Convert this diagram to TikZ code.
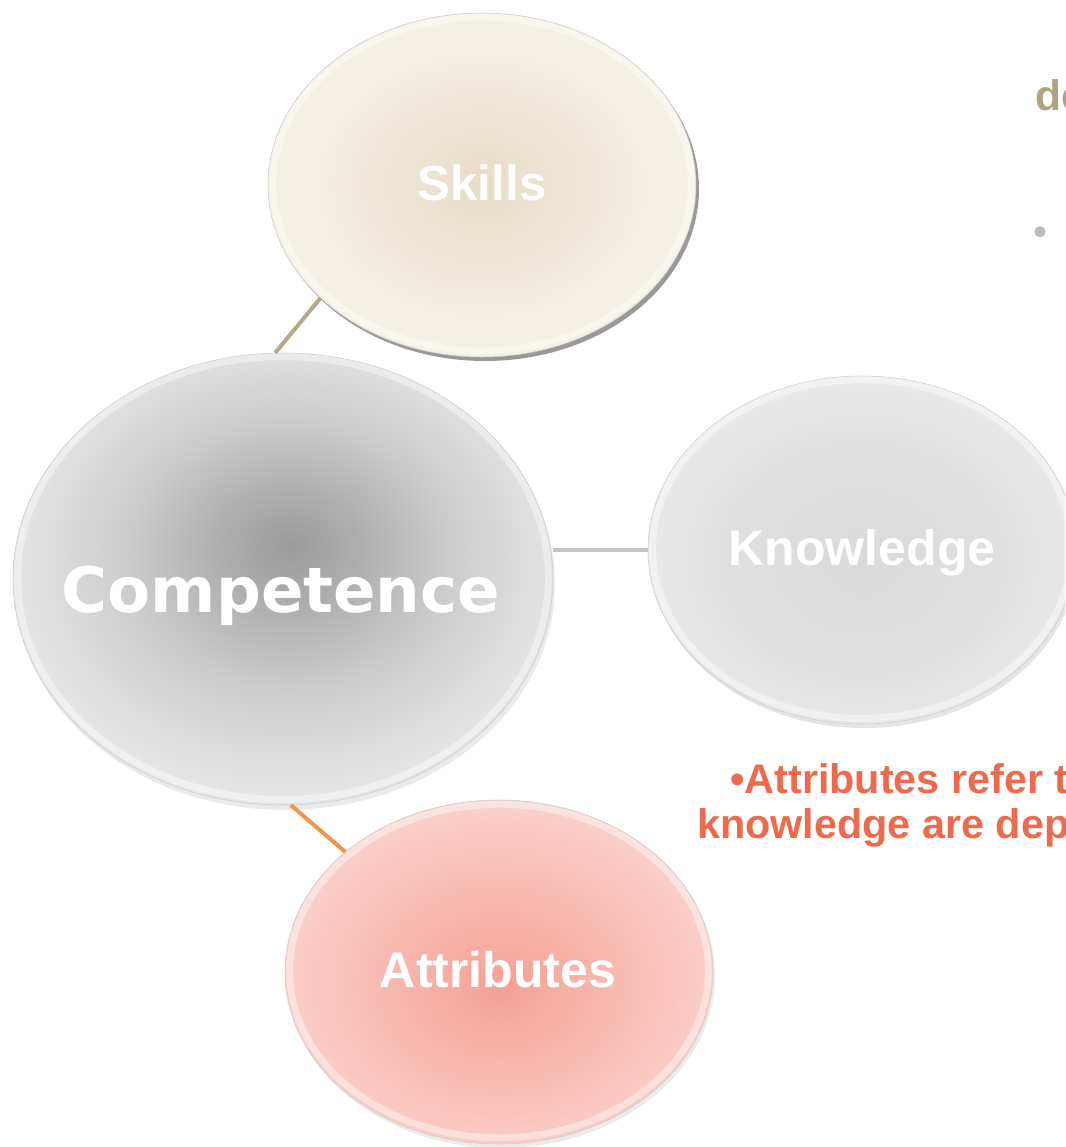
\documentclass[tikz,border=0pt]{standalone}
\usepackage{fontspec}
\setmainfont{Liberation Sans}
\newfontfamily\widefont{DejaVu Sans}
\usetikzlibrary{shapes.geometric}

\definecolor{skA}{HTML}{E6DBC6}
\definecolor{skB}{HTML}{EEE6D6}
\definecolor{skC}{HTML}{F5F0E6}
\definecolor{cpA}{HTML}{9B9B9B}
\definecolor{cpB}{HTML}{B0B0B0}
\definecolor{cpC}{HTML}{CCCCCC}
\definecolor{cpD}{HTML}{DDDDDD}
\definecolor{cpE}{HTML}{EAEAEA}
\definecolor{knA}{HTML}{DADADA}
\definecolor{knB}{HTML}{DFDFDF}
\definecolor{knC}{HTML}{EAEAEA}
\definecolor{atA}{HTML}{F4A096}
\definecolor{atB}{HTML}{F7B1A8}
\definecolor{atC}{HTML}{F9C3BC}
\definecolor{atD}{HTML}{FBD3CD}
\definecolor{tanline}{HTML}{B5A98C}
\definecolor{greyline}{HTML}{C4C4C4}
\definecolor{orangeline}{HTML}{F2944C}
\definecolor{redtext}{HTML}{EF6A4C}
\definecolor{tantext}{HTML}{B0A382}
\definecolor{bulletgrey}{HTML}{BDBDBD}

% radius 25bp corresponds to the ellipse border
\pgfdeclareradialshading{skshade}{\pgfpoint{0bp}{0bp}}{color(0bp)=(skA); color(10bp)=(skB); color(21bp)=(skC); color(25bp)=(skC); color(50bp)=(skC)}
\pgfdeclareradialshading{cpshade}{\pgfpoint{0.7bp}{3.8bp}}{color(0bp)=(cpA); color(7bp)=(cpB); color(15bp)=(cpC); color(22bp)=(cpD); color(28bp)=(cpE); color(50bp)=(cpE)}
\pgfdeclareradialshading{knshade}{\pgfpoint{0bp}{-2bp}}{color(0bp)=(knA); color(15bp)=(knB); color(26bp)=(knC); color(50bp)=(knC)}
\pgfdeclareradialshading{atshade}{\pgfpoint{0bp}{-2.5bp}}{color(0bp)=(atA); color(9bp)=(atB); color(19bp)=(atC); color(27bp)=(atD); color(50bp)=(atD)}

\begin{document}
\begin{tikzpicture}[x=0.75pt,y=-0.75pt,
  bubble/.style={ellipse, inner sep=0pt, draw=black!20, line width=0.4pt},
  bubbletext/.style={text=white, font=\bfseries, anchor=base, inner sep=0pt},
  link/.style={line width=3pt},
  shadowfill/.style={fill=black, opacity=#1},
  glow/.style={draw=white, opacity=0.4, line width=5pt}]
\clip (0,0) rectangle (1065,1147);
\fill[white] (0,0) rectangle (1065,1147);

% soft shadows
\fill[shadowfill=0.40] (485,189) ellipse [x radius=160.5pt, y radius=129pt];
\fill[shadowfill=0.08] (285,584) ellipse [x radius=202.5pt, y radius=169.5pt];
\fill[shadowfill=0.10] (864,554) ellipse [x radius=160.5pt, y radius=130.5pt];
\fill[shadowfill=0.08] (501,976) ellipse [x radius=160.5pt, y radius=129pt];

% bubbles
\node[bubble, minimum width=321pt, minimum height=258pt, shading=skshade] (skills) at (482,185) {};
\node[bubble, minimum width=405pt, minimum height=339pt, shading=cpshade] (comp) at (283,579) {};
\node[bubble, minimum width=321pt, minimum height=261pt, shading=knshade] (know) at (862,550) {};
\node[bubble, minimum width=321pt, minimum height=258pt, shading=atshade] (attr) at (499,972) {};

% bevel highlights
\draw[glow] (482,184) ellipse [x radius=157pt, y radius=125pt];
\draw[glow] (283,578) ellipse [x radius=199pt, y radius=166pt];
\draw[glow] (862,549) ellipse [x radius=157pt, y radius=127pt];
\draw[glow] (499,971) ellipse [x radius=157pt, y radius=125pt];

% connectors
\draw[link, tanline] (comp.92) -- (skills.215);
\draw[link, greyline] (know.west) -- (know.west -| comp.east);
\draw[link, orangeline] (comp.272) -- (attr.142);

% labels
\node[bubbletext, font=\bfseries\fontsize{37}{44}\selectfont] (skillsT) at (482,200) {Skills};
\node[bubbletext, font=\widefont\bfseries\fontsize{47}{56}\selectfont] (compT) at (281,612) {Competence};
\node[bubbletext, font=\bfseries\fontsize{37.5}{44}\selectfont] (knowT) at (862,565) {Knowledge};
\node[bubbletext, font=\bfseries\fontsize{37.5}{44}\selectfont] (attrT) at (498,987) {Attributes};

% right-hand text (clipped at the edge, as in the reference)
\node[anchor=base west, inner sep=0pt, text=tantext, font=\bfseries\fontsize{32}{38}\selectfont] (deT) at (1035,110) {de};
\node[anchor=base west, inner sep=0pt, text=bulletgrey, font=\fontsize{30}{36}\selectfont] (bulT) at (1033,245) {•};
\node[anchor=base west, inner sep=0pt, text=redtext, font=\bfseries\fontsize{31}{37}\selectfont] (line1) at (730,793) {•Attributes refer to};
\node[anchor=base west, inner sep=0pt, text=redtext, font=\bfseries\fontsize{31}{37}\selectfont] (line2) at (697,838) {knowledge are dep};
\end{tikzpicture}
\end{document}
